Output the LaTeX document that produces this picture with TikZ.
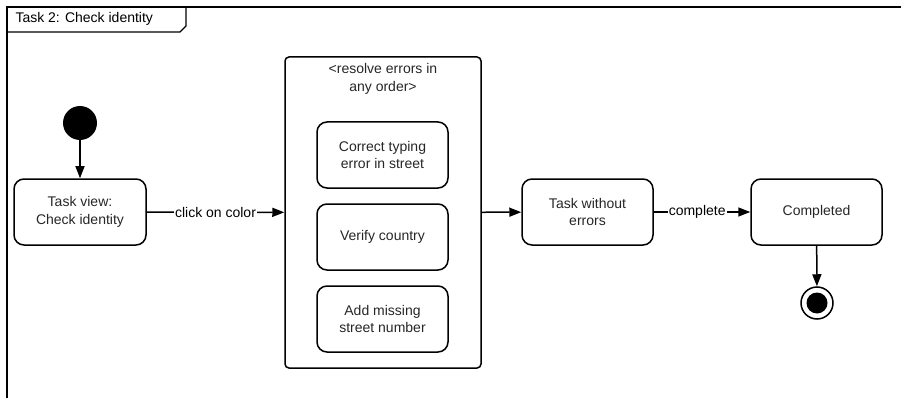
\documentclass[tikz,border=0pt]{standalone}
\usepackage{fontspec}
\setmainfont{Liberation Sans}
\usetikzlibrary{arrows.meta}
\begin{document}
\begin{tikzpicture}[x=1pt,y=-1pt,
  every node/.style={font=\fontsize{14}{17.5}\selectfont, text=black!85},
  state/.style={draw, line width=1.5pt, rounded corners=10pt, minimum width=132pt, minimum height=66pt, align=center, inner sep=2pt},
  conn/.style={line width=1.5pt, -{Triangle[length=12pt,width=9pt]}},
  lbl/.style={fill=white, inner sep=1pt, text=black},
  frameline/.style={line width=1.3pt}
]
\useasboundingbox (0,0) rectangle (901,398);
% frame
\draw[frameline] (7,398) -- (7,7) -- (901,7);
\draw[frameline] (7,32) -- (180,32) -- (186,26) -- (186,7);
\node[anchor=west, text=black] (framelabel) at (12,19) {Task 2: Check identity};
% start
\node[circle, fill=black, minimum size=34pt, inner sep=0pt] (start) at (80,123) {};
\node[state] (view) at (80,212) {Task view:\\Check identity};
% group
\node[draw, line width=1.5pt, rounded corners=4pt, minimum width=196pt, minimum height=311pt, inner sep=0pt] (group) at (383,212.5) {};
\node[align=center, anchor=north] (grouptitle) at (383,60) {<resolve errors in\\any order>};
\node[state, minimum width=131pt] (e1) at (382.5,155) {Correct typing\\error in street};
\node[state, minimum width=131pt] (e2) at (382.5,237) {Verify country};
\node[state, minimum width=131pt] (e3) at (382.5,319) {Add missing\\street number};
% right side
\node[state, minimum width=131pt] (noerr) at (587.5,212) {Task without\\errors};
\node[state, minimum width=131pt] (done) at (816.5,212) {Completed};
\node[circle, draw, line width=1.5pt, minimum size=32pt, inner sep=0pt] (end) at (817,303) {};
\fill (end.center) circle (10.5);
% connectors
\draw[conn] (start) -- (view);
\draw[conn] (view) -- node[lbl] (lblclick) {click on color} (group);
\draw[conn] (group) -- (noerr);
\draw[conn] (noerr) -- node[lbl, pos=0.45] (lblcomplete) {complete} (done);
\draw[conn] (done) -- (end);
\end{tikzpicture}
\end{document}
